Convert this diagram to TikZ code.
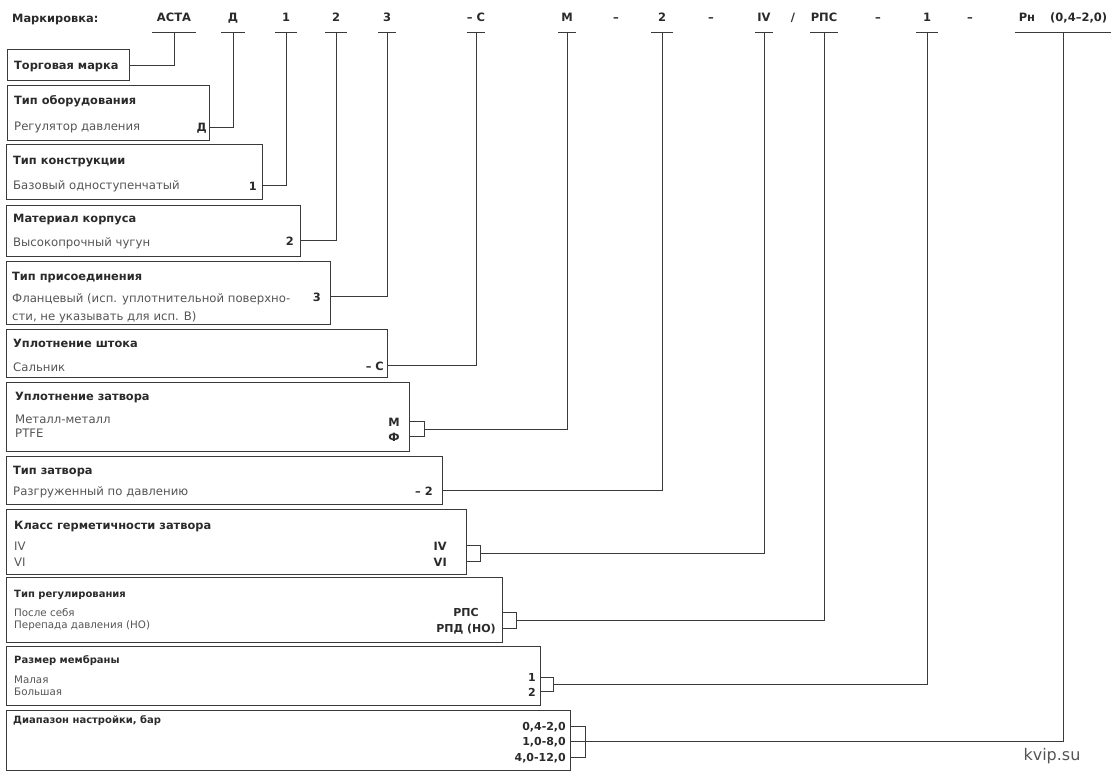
\documentclass[tikz,border=0pt]{standalone}
\usepackage{fontspec}
\setmainfont{DejaVu Sans}
\usetikzlibrary{calc}
\definecolor{ink}{HTML}{2A2A2A}
\definecolor{soft}{HTML}{555555}
\definecolor{wire}{HTML}{3A3A3A}
\begin{document}
\begin{tikzpicture}[
  x=1pt,y=-1pt,
  every node/.style={inner sep=0pt,text=ink},
  line/.style={draw=wire,line width=0.9pt},
  card/.style 2 args={draw=wire,line width=0.9pt,anchor=north west,minimum width=#1,minimum height=#2},
  lbl/.style={font=\bfseries\fontsize{11.5}{13}\selectfont,anchor=south,text depth=10pt,minimum width=#1},
  lbl/.default=0pt,
  head/.style={font=\bfseries\fontsize{11.4}{13}\selectfont,anchor=base west},
  item/.style={font=\fontsize{11.7}{13}\selectfont,text=soft,anchor=base west},
  code/.style={font=\bfseries\fontsize{11.4}{13}\selectfont,anchor=base east},
  smallhead/.style={head,font=\bfseries\fontsize{10}{12}\selectfont},
  smallitem/.style={item,font=\fontsize{10.3}{12}\selectfont},
  smallcode/.style={code,font=\bfseries\fontsize{11}{13}\selectfont}
]
\path[fill=white,use as bounding box] (0,0) rectangle (1112,774);

% marking line
\node[head] (mark) at (12,22) {Маркировка:};
\node[lbl=43] (mA) at (174,32) {АСТА};
\node[lbl=23] (mD) at (233,32) {Д};
\node[lbl=22] (m1) at (286,32) {1};
\node[lbl=21] (m2) at (336,32) {2};
\node[lbl=17] (m3) at (387,32) {3};
\node[lbl=18] (mC) at (476,32) {– С};
\node[lbl=17] (mM) at (567,32) {М};
\node[lbl] (d1) at (616,32) {–};
\node[lbl=21] (mZ) at (662,32) {2};
\node[lbl] (d2) at (711,32) {–};
\node[lbl=18] (mIV) at (764,32) {IV};
\node[lbl] (sl) at (793,32) {/};
\node[lbl=27] (mR) at (824,32) {РПС};
\node[lbl] (d3) at (878,32) {–};
\node[lbl=21] (mS) at (927,32) {1};
\node[lbl] (d4) at (970,32) {–};
\node[lbl=95] (mP) at (1063,32) {Рн\hspace{15pt}(0,4–2,0)};
\foreach \m in {mA,mD,m1,m2,m3,mC,mM,mZ,mIV,mR,mS,mP}
  \draw[line] (\m.south west) -- (\m.south east);

% boxes
\node[card={122}{31}] (b1) at (7,49) {};
\node[head] (h1) at (14,69) {Торговая марка};

\node[card={202}{55}] (b2) at (7,85) {};
\node[head] (h2) at (14,104) {Тип оборудования};
\node[item] (i2) at (14,130) {Регулятор давления};
\node[code] (cD) at (207,131) {Д};

\node[card={256}{55}] (b3) at (6,144) {};
\node[head] (h3) at (13,164) {Тип конструкции};
\node[item] (i3) at (13,189) {Базовый одноступенчатый};
\node[code] (c1) at (257,190) {1};

\node[card={294}{51}] (b4) at (6,205) {};
\node[head] (h4) at (13,222) {Материал корпуса};
\node[item] (i4) at (13,246) {Высокопрочный чугун};
\node[code] (c2) at (294,245) {2};

\node[card={324}{63}] (b5) at (6,261) {};
\node[head] (h5) at (12,280) {Тип присоединения};
\node[item] (i5a) at (12,302) {Фланцевый (исп. уплотнительной поверхно-};
\node[item] (i5b) at (12,320) {сти, не указывать для исп. В)};
\node[code] (c3) at (321,301) {3};

\node[card={381}{48}] (b6) at (6,329) {};
\node[head] (h6) at (13,347) {Уплотнение штока};
\node[item] (i6) at (13,371) {Сальник};
\node[code] (cC) at (384,370) {– С};

\node[card={403}{69}] (b7) at (6,382) {};
\node[head] (h7) at (15,400) {Уплотнение затвора};
\node[item] (i7a) at (15,423) {Металл-металл};
\node[item] (i7b) at (15,437) {PTFE};
\node[code] (cM) at (400,426) {М};
\node[code] (cF) at (400,441) {Ф};

\node[card={436}{48}] (b8) at (6,456) {};
\node[head] (h8) at (13,474) {Тип затвора};
\node[item] (i8) at (13,495) {Разгруженный по давлению};
\node[code] (cZ) at (433,495) {– 2};

\node[card={460}{65}] (b9) at (6,509) {};
\node[head] (h9) at (14,529) {Класс герметичности затвора};
\node[item] (i9a) at (14,550) {IV};
\node[item] (i9b) at (14,566) {VI};
\node[code] (cIV) at (447,550) {IV};
\node[code] (cVI) at (447,566) {VI};

\node[card={496}{65}] (b10) at (6,577) {};
\node[smallhead] (h10) at (14,597) {Тип регулирования};
\node[smallitem] (i10a) at (14,616) {После себя};
\node[smallitem] (i10b) at (14,628) {Перепада давления (НО)};
\node[smallcode,anchor=base] (cR) at (466,616) {РПС};
\node[smallcode,anchor=base] (cRd) at (466,632) {РПД (НО)};

\node[card={534}{59}] (b11) at (6,646) {};
\node[smallhead] (h11) at (14,663) {Размер мембраны};
\node[smallitem] (i11a) at (14,683) {Малая};
\node[smallitem] (i11b) at (14,695) {Большая};
\node[smallcode] (cS1) at (536,681) {1};
\node[smallcode] (cS2) at (536,696) {2};

\node[card={564}{60}] (b12) at (6,710) {};
\node[smallhead] (h12) at (13,723) {Диапазон настройки, бар};
\node[smallcode] (v1) at (566,730) {0,4-2,0};
\node[smallcode] (v2) at (566,745) {1,0-8,0};
\node[smallcode] (v3) at (566,761) {4,0-12,0};

\node[font=\fontsize{16}{18}\selectfont,text=soft] (site) at (1052,756) {kvip.su};

% connectors
\draw[line] (b1.east) -| (mA.south);
\draw[line] (b2.east |- cD) -| (mD.south);
\draw[line] (b3.east |- c1) -| (m1.south);
\draw[line] (b4.east |- c2) -| (m2.south);
\draw[line] (b5.east |- c3) -| (m3.south);
\draw[line] (b6.east |- cC) -| (mC.south);

\coordinate (j7) at ($(b7.east |- cM)!.5!(b7.east |- cF)+(15,0)$);
\draw[line] (b7.east |- cM) -| (j7) |- (b7.east |- cF);
\draw[line] (j7) -| (mM.south);

\draw[line] (b8.east |- cZ) -| (mZ.south);

\coordinate (j9) at ($(b9.east |- cIV)!.5!(b9.east |- cVI)+(14,0)$);
\draw[line] (b9.east |- cIV) -| (j9) |- (b9.east |- cVI);
\draw[line] (j9) -| (mIV.south);

\coordinate (j10) at ($(b10.east |- cR)!.5!(b10.east |- cRd)+(14,0)$);
\draw[line] (b10.east |- cR) -| (j10) |- (b10.east |- cRd);
\draw[line] (j10) -| (mR.south);

\coordinate (j11) at ($(b11.east |- cS1)!.5!(b11.east |- cS2)+(13,0)$);
\draw[line] (b11.east |- cS1) -| (j11) |- (b11.east |- cS2);
\draw[line] (j11) -| (mS.south);

\coordinate (j12) at ($(b12.east |- v2)+(15,0)$);
\draw[line] (b12.east |- v1) -| (j12) |- (b12.east |- v3);
\draw[line] (b12.east |- v2) -| (mP.south);
\end{tikzpicture}
\end{document}
